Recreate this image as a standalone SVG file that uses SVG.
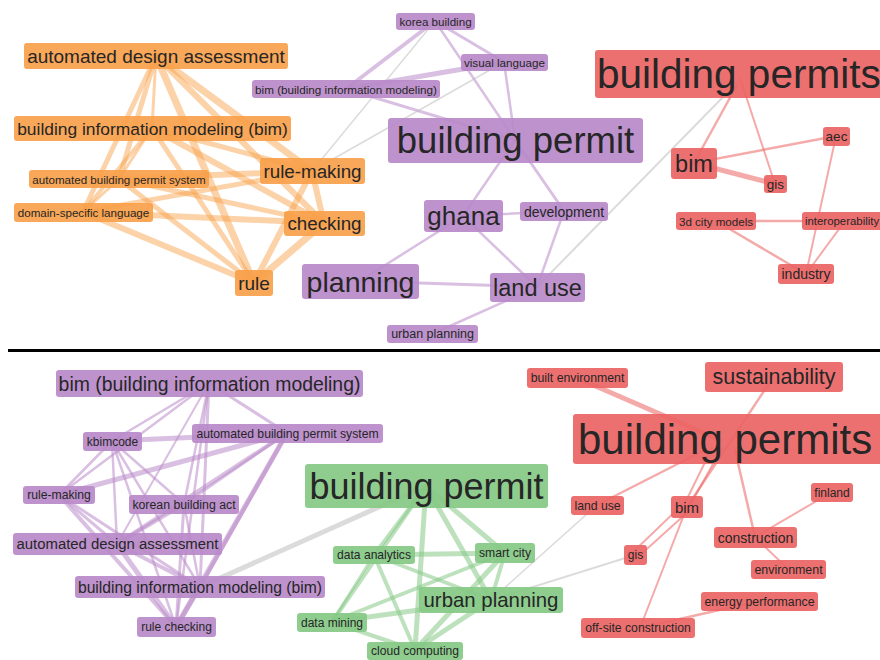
<svg xmlns="http://www.w3.org/2000/svg" width="880" height="660" viewBox="0 0 880 660">
<style>
text{font-family:"Liberation Sans",Arial,sans-serif;fill:#262626;text-anchor:middle;dominant-baseline:central}
.o rect{fill:#f8a04a;fill-opacity:.92}
.p rect{fill:#b98ac9;fill-opacity:.92}
.g rect{fill:#86c986;fill-opacity:.92}
.r rect{fill:#ec6464;fill-opacity:.92}
rect{rx:3}
#edges line{stroke-linecap:round}
.eo{stroke:#f8a04a;stroke-opacity:.48}
.ep{stroke:#b98ac9;stroke-opacity:.55}
.eg{stroke:#86c986;stroke-opacity:.55}
.er{stroke:#ec6464;stroke-opacity:.55}
.ex{stroke:#bdbdbd;stroke-opacity:.55}
</style>
<rect x="0" y="0" width="880" height="660" fill="#fff"/>
<g id="edges">
<!-- orange top -->
<line class="eo" x1="156" y1="56" x2="152" y2="128" stroke-width="3"/>
<line class="eo" x1="156" y1="56" x2="119" y2="179" stroke-width="5"/>
<line class="eo" x1="156" y1="56" x2="83" y2="212" stroke-width="5"/>
<line class="eo" x1="156" y1="56" x2="312" y2="171" stroke-width="7"/>
<line class="eo" x1="156" y1="56" x2="324" y2="223" stroke-width="6"/>
<line class="eo" x1="156" y1="56" x2="254" y2="283" stroke-width="7"/>
<line class="eo" x1="152" y1="128" x2="119" y2="179" stroke-width="3"/>
<line class="eo" x1="152" y1="128" x2="83" y2="212" stroke-width="4"/>
<line class="eo" x1="152" y1="128" x2="312" y2="171" stroke-width="5"/>
<line class="eo" x1="152" y1="128" x2="324" y2="223" stroke-width="6"/>
<line class="eo" x1="152" y1="128" x2="254" y2="283" stroke-width="5"/>
<line class="eo" x1="119" y1="179" x2="83" y2="212" stroke-width="3"/>
<line class="eo" x1="119" y1="179" x2="312" y2="171" stroke-width="6"/>
<line class="eo" x1="119" y1="179" x2="324" y2="223" stroke-width="5"/>
<line class="eo" x1="119" y1="179" x2="254" y2="283" stroke-width="5"/>
<line class="eo" x1="83" y1="212" x2="312" y2="171" stroke-width="5"/>
<line class="eo" x1="83" y1="212" x2="324" y2="223" stroke-width="6"/>
<line class="eo" x1="83" y1="212" x2="254" y2="283" stroke-width="6"/>
<line class="eo" x1="312" y1="171" x2="324" y2="223" stroke-width="6"/>
<line class="eo" x1="312" y1="171" x2="254" y2="283" stroke-width="6"/>
<line class="eo" x1="324" y1="223" x2="254" y2="283" stroke-width="7"/>
<!-- purple top -->
<line class="ep" x1="346" y1="89" x2="435" y2="21" stroke-width="4"/>
<line class="ep" x1="435" y1="21" x2="504" y2="62" stroke-width="3"/>
<line class="ep" x1="435" y1="21" x2="515" y2="140" stroke-width="2.5"/>
<line class="ep" x1="346" y1="89" x2="504" y2="62" stroke-width="5"/>
<line class="ep" x1="504" y1="62" x2="515" y2="140" stroke-width="2.5"/>
<line class="ep" x1="346" y1="89" x2="515" y2="140" stroke-width="3"/>
<line class="ep" x1="515" y1="140" x2="463" y2="216" stroke-width="2.5"/>
<line class="ep" x1="515" y1="140" x2="564" y2="211" stroke-width="3"/>
<line class="ep" x1="463" y1="216" x2="564" y2="211" stroke-width="2.5"/>
<line class="ep" x1="564" y1="211" x2="537" y2="287" stroke-width="2.5"/>
<line class="ep" x1="463" y1="216" x2="537" y2="287" stroke-width="2.5"/>
<line class="ep" x1="463" y1="216" x2="360" y2="281" stroke-width="2.5"/>
<line class="ep" x1="360" y1="281" x2="537" y2="287" stroke-width="3"/>
<line class="ep" x1="537" y1="287" x2="432" y2="334" stroke-width="2.5"/>
<line class="ex" x1="312" y1="171" x2="435" y2="21" stroke-width="1.5"/>
<line class="ex" x1="312" y1="171" x2="504" y2="62" stroke-width="1.5"/>
<line class="ex" x1="537" y1="287" x2="725" y2="95" stroke-width="2"/>
<!-- red top -->
<line class="er" x1="737" y1="85" x2="694" y2="163" stroke-width="2.5"/>
<line class="er" x1="740" y1="78" x2="775" y2="184" stroke-width="2"/>
<line class="er" x1="694" y1="163" x2="836" y2="136" stroke-width="2.5"/>
<line class="er" x1="694" y1="163" x2="775" y2="184" stroke-width="5"/>
<line class="er" x1="716" y1="221" x2="840" y2="221" stroke-width="2.5"/>
<line class="er" x1="716" y1="221" x2="806" y2="274" stroke-width="2.5"/>
<line class="er" x1="836" y1="136" x2="806" y2="274" stroke-width="2"/>
<line class="er" x1="845" y1="221" x2="806" y2="274" stroke-width="2"/>
<!-- purple bottom -->
<line class="ep" x1="209" y1="383" x2="112" y2="441" stroke-width="2.5"/>
<line class="ep" x1="209" y1="383" x2="287" y2="433" stroke-width="3"/>
<line class="ep" x1="209" y1="383" x2="59" y2="495" stroke-width="2.5"/>
<line class="ep" x1="209" y1="383" x2="184" y2="504" stroke-width="2.5"/>
<line class="ep" x1="209" y1="383" x2="117" y2="544" stroke-width="2"/>
<line class="ep" x1="209" y1="383" x2="200" y2="587" stroke-width="3"/>
<line class="ep" x1="209" y1="383" x2="176" y2="627" stroke-width="2.5"/>
<line class="ep" x1="112" y1="441" x2="287" y2="433" stroke-width="5"/>
<line class="ep" x1="112" y1="441" x2="59" y2="495" stroke-width="2.5"/>
<line class="ep" x1="112" y1="441" x2="184" y2="504" stroke-width="2.5"/>
<line class="ep" x1="112" y1="441" x2="117" y2="544" stroke-width="2.5"/>
<line class="ep" x1="112" y1="441" x2="200" y2="587" stroke-width="2.5"/>
<line class="ep" x1="112" y1="441" x2="176" y2="627" stroke-width="2.5"/>
<line class="ep" x1="287" y1="433" x2="59" y2="495" stroke-width="5"/>
<line class="ep" x1="287" y1="433" x2="184" y2="504" stroke-width="3"/>
<line class="ep" x1="287" y1="433" x2="117" y2="544" stroke-width="4"/>
<line class="ep" x1="287" y1="433" x2="200" y2="587" stroke-width="4"/>
<line class="ep" x1="287" y1="433" x2="176" y2="627" stroke-width="5"/>
<line class="ep" x1="59" y1="495" x2="117" y2="544" stroke-width="3"/>
<line class="ep" x1="59" y1="495" x2="200" y2="587" stroke-width="3"/>
<line class="ep" x1="59" y1="495" x2="176" y2="627" stroke-width="4"/>
<line class="ep" x1="184" y1="504" x2="117" y2="544" stroke-width="4"/>
<line class="ep" x1="184" y1="504" x2="200" y2="587" stroke-width="2.5"/>
<line class="ep" x1="184" y1="504" x2="176" y2="627" stroke-width="3"/>
<line class="ep" x1="117" y1="544" x2="200" y2="587" stroke-width="4"/>
<line class="ep" x1="117" y1="544" x2="176" y2="627" stroke-width="5"/>
<line class="ep" x1="200" y1="587" x2="176" y2="627" stroke-width="5"/>
<line class="ex" x1="200" y1="587" x2="426" y2="486" stroke-width="5"/>
<!-- green -->
<line class="eg" x1="426" y1="486" x2="374" y2="555" stroke-width="4"/>
<line class="eg" x1="426" y1="486" x2="505" y2="553" stroke-width="5"/>
<line class="eg" x1="426" y1="486" x2="491" y2="600" stroke-width="5"/>
<line class="eg" x1="426" y1="486" x2="332" y2="622" stroke-width="4"/>
<line class="eg" x1="426" y1="486" x2="415" y2="650" stroke-width="5"/>
<line class="eg" x1="374" y1="555" x2="505" y2="553" stroke-width="5"/>
<line class="eg" x1="374" y1="555" x2="491" y2="600" stroke-width="4"/>
<line class="eg" x1="374" y1="555" x2="332" y2="622" stroke-width="3"/>
<line class="eg" x1="374" y1="555" x2="415" y2="650" stroke-width="4"/>
<line class="eg" x1="505" y1="553" x2="491" y2="600" stroke-width="4"/>
<line class="eg" x1="505" y1="553" x2="332" y2="622" stroke-width="4"/>
<line class="eg" x1="505" y1="553" x2="415" y2="650" stroke-width="5"/>
<line class="eg" x1="491" y1="600" x2="332" y2="622" stroke-width="5"/>
<line class="eg" x1="491" y1="600" x2="415" y2="650" stroke-width="5"/>
<line class="eg" x1="332" y1="622" x2="415" y2="650" stroke-width="4"/>
<line class="ex" x1="491" y1="600" x2="597" y2="505" stroke-width="1.5"/>
<line class="ex" x1="491" y1="600" x2="635" y2="555" stroke-width="2"/>
<!-- red bottom -->
<line class="er" x1="577" y1="378" x2="720" y2="440" stroke-width="5"/>
<line class="er" x1="770" y1="382" x2="687" y2="507" stroke-width="2.5"/>
<line class="er" x1="705" y1="450" x2="597" y2="505" stroke-width="2.5"/>
<line class="er" x1="712" y1="448" x2="684" y2="505" stroke-width="2"/>
<line class="er" x1="722" y1="448" x2="690" y2="505" stroke-width="2"/>
<line class="er" x1="735" y1="450" x2="755" y2="537" stroke-width="2.5"/>
<line class="er" x1="682" y1="505" x2="632" y2="553" stroke-width="2"/>
<line class="er" x1="690" y1="510" x2="638" y2="557" stroke-width="2"/>
<line class="er" x1="687" y1="507" x2="640" y2="628" stroke-width="2"/>
<line class="er" x1="832" y1="492" x2="755" y2="537" stroke-width="2"/>
<line class="er" x1="755" y1="537" x2="788" y2="569" stroke-width="2"/>
<line class="er" x1="759" y1="601" x2="640" y2="628" stroke-width="2.5"/>
</g>
<line x1="8" y1="350.5" x2="880" y2="350.5" stroke="#000" stroke-width="3"/>

<!-- top orange -->
<g id="t-ada" class="o"><rect x="24" y="43" width="264" height="26"/><text x="156" y="56.5" font-size="19">automated design assessment</text></g>
<g id="t-bim-o" class="o"><rect x="14" y="116" width="277" height="25"/><text x="152.5" y="128.5" font-size="17.4">building information modeling (bim)</text></g>
<g id="t-abps" class="o"><rect x="29" y="170" width="180" height="18"/><text x="119" y="179" font-size="11.6">automated building permit system</text></g>
<g id="t-dsl" class="o"><rect x="14" y="203" width="139" height="19"/><text x="83.5" y="212.5" font-size="11.6">domain-specific language</text></g>
<g id="t-rm" class="o"><rect x="260" y="158" width="105" height="26"/><text x="312.5" y="171" font-size="18.8">rule-making</text></g>
<g id="t-ch" class="o"><rect x="284" y="211" width="81" height="25"/><text x="324.5" y="223.5" font-size="18.8">checking</text></g>
<g id="t-rule" class="o"><rect x="235" y="270" width="38" height="26"/><text x="254" y="283" font-size="19">rule</text></g>

<!-- top purple -->
<g id="t-kb" class="p"><rect x="396" y="13" width="79" height="17"/><text x="435.5" y="21.5" font-size="11.6">korea building</text></g>
<g id="t-vl" class="p"><rect x="461" y="54" width="87" height="17"/><text x="504.5" y="62.5" font-size="11.7">visual language</text></g>
<g id="t-bimp" class="p"><rect x="252" y="80" width="188" height="18"/><text x="346" y="89" font-size="11.7">bim (building information modeling)</text></g>
<g id="t-bp" class="p"><rect x="388" y="118" width="255" height="45"/><text x="515.5" y="140.5" font-size="36.5">building permit</text></g>
<g id="t-gh" class="p"><rect x="424" y="200" width="79" height="32"/><text x="463.5" y="216" font-size="26">ghana</text></g>
<g id="t-dev" class="p"><rect x="520" y="202" width="88" height="19"/><text x="564" y="211.5" font-size="14">development</text></g>
<g id="t-pl" class="p"><rect x="302" y="264" width="117" height="35"/><text x="360.5" y="281.5" font-size="28.5">planning</text></g>
<g id="t-lu" class="p"><rect x="490" y="273" width="95" height="29"/><text x="537.5" y="287.5" font-size="23.5">land use</text></g>
<g id="t-up" class="p"><rect x="387" y="325" width="91" height="18"/><text x="432.5" y="334" font-size="12.5">urban planning</text></g>

<!-- top red -->
<g id="t-bps" class="r"><rect x="595" y="50" width="300" height="48"/><text x="597" y="74" font-size="40.5" style="text-anchor:start">building permits</text></g>
<g id="t-bim-r" class="r"><rect x="671" y="148" width="46" height="31"/><text x="694" y="163.5" font-size="23.5">bim</text></g>
<g id="t-gis" class="r"><rect x="764" y="175" width="23" height="18"/><text x="775.5" y="184" font-size="13.5">gis</text></g>
<g id="t-aec" class="r"><rect x="823" y="127" width="27" height="19"/><text x="836.5" y="136.5" font-size="13.5">aec</text></g>
<g id="t-3d" class="r"><rect x="676" y="212" width="80" height="18"/><text x="716" y="221" font-size="11.6">3d city models</text></g>
<g id="t-io" class="r"><rect x="802" y="212" width="100" height="18"/><text x="805" y="221" font-size="11.4" style="text-anchor:start">interoperability</text></g>
<g id="t-ind" class="r"><rect x="778" y="264" width="56" height="20"/><text x="806" y="274" font-size="14">industry</text></g>

<!-- bottom purple -->
<g id="b-bimb" class="p"><rect x="56" y="370" width="307" height="27"/><text x="209.5" y="383.5" font-size="19.4">bim (building information modeling)</text></g>
<g id="b-kbim" class="p"><rect x="83" y="432" width="59" height="19"/><text x="112.5" y="441.5" font-size="12">kbimcode</text></g>
<g id="b-abps" class="p"><rect x="192" y="424" width="191" height="19"/><text x="287.5" y="433.5" font-size="12.2">automated building permit system</text></g>
<g id="b-rm" class="p"><rect x="23" y="486" width="72" height="18"/><text x="59" y="495" font-size="12.2">rule-making</text></g>
<g id="b-kba" class="p"><rect x="129" y="495" width="110" height="19"/><text x="184" y="504.5" font-size="12.3">korean building act</text></g>
<g id="b-ada" class="p"><rect x="13" y="533" width="209" height="22"/><text x="117.5" y="544" font-size="14.9">automated design assessment</text></g>
<g id="b-bim2" class="p"><rect x="75" y="576" width="250" height="22"/><text x="200" y="587" font-size="15.7">building information modeling (bim)</text></g>
<g id="b-rc" class="p"><rect x="137" y="617" width="79" height="20"/><text x="176.5" y="627" font-size="12">rule checking</text></g>

<!-- bottom green -->
<g id="b-bp" class="g"><rect x="305" y="464" width="243" height="44"/><text x="426.5" y="486" font-size="36">building permit</text></g>
<g id="b-da" class="g"><rect x="333" y="546" width="82" height="18"/><text x="374" y="555" font-size="12.1">data analytics</text></g>
<g id="b-sc" class="g"><rect x="475" y="543" width="60" height="20"/><text x="505" y="553" font-size="12.2">smart city</text></g>
<g id="b-up" class="g"><rect x="419" y="587" width="144" height="26"/><text x="491" y="600" font-size="20.4">urban planning</text></g>
<g id="b-dm" class="g"><rect x="297" y="613" width="70" height="19"/><text x="332" y="622.5" font-size="12">data mining</text></g>
<g id="b-cc" class="g"><rect x="367" y="642" width="96" height="18"/><text x="415" y="651" font-size="12.1">cloud computing</text></g>

<!-- bottom red -->
<g id="b-be" class="r"><rect x="527" y="368" width="101" height="20"/><text x="577.5" y="378" font-size="12.3">built environment</text></g>
<g id="b-sus" class="r"><rect x="705" y="362" width="138" height="30"/><text x="774" y="377" font-size="21.5">sustainability</text></g>
<g id="b-bps" class="r"><rect x="573" y="414" width="330" height="50"/><text x="578" y="439" font-size="42" style="text-anchor:start">building permits</text></g>
<g id="b-fin" class="r"><rect x="811" y="483" width="42" height="19"/><text x="832" y="492.5" font-size="12">finland</text></g>
<g id="b-lu" class="r"><rect x="571" y="496" width="53" height="19"/><text x="597.5" y="505.5" font-size="12.2">land use</text></g>
<g id="b-bim" class="r"><rect x="671" y="496" width="32" height="22"/><text x="687" y="507" font-size="15">bim</text></g>
<g id="b-gis" class="r"><rect x="624" y="545" width="23" height="20"/><text x="635.5" y="555" font-size="12">gis</text></g>
<g id="b-con" class="r"><rect x="714" y="527" width="83" height="21"/><text x="755.5" y="537.5" font-size="14">construction</text></g>
<g id="b-env" class="r"><rect x="751" y="560" width="75" height="19"/><text x="788.5" y="569.5" font-size="12.4">environment</text></g>
<g id="b-ep" class="r"><rect x="701" y="592" width="117" height="19"/><text x="759.5" y="601.5" font-size="12.3">energy performance</text></g>
<g id="b-osc" class="r"><rect x="581" y="618" width="114" height="20"/><text x="638" y="628" font-size="12.2">off-site construction</text></g>
</svg>
